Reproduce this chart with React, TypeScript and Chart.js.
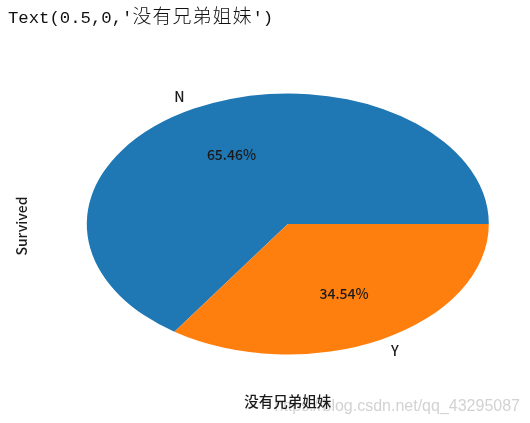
import React, { useEffect, useRef } from "react";
import { Chart, registerables } from "chart.js";

Chart.register(...registerables);

// ---- data ----
const categories = ["N", "Y"];
const counts = [398, 210];
const colors = ["#1f77b4", "#ff7f0e"];
const xLabel = "没有兄弟姐妹";
const yLabel = "Survived";
const outputPrefix = "Text(0.5,0,'";
const outputCjk = "没有兄弟姐妹";
const outputSuffix = "')";
const watermark = "https://blog.csdn.net/qq_43295087";

// ---- geometry / style ----
const RY = 130.5;
const SX = 201 / 130.5;
const LABEL_FONT = '500 14px "Noto Sans CJK SC", sans-serif';
const XLABEL_FONT = '500 14.5px "Noto Sans CJK SC", sans-serif';
const TEXT_COLOR = "#1a1a1a";

export default function App() {
  const ref = useRef<HTMLCanvasElement>(null);

  useEffect(() => {
    if (!ref.current) return;
    const total = counts.reduce((a, b) => a + b, 0);

    const ellipsePlugin = {
      id: "ellipsePie",
      beforeDatasetsDraw(chart: any) {
        const arc = chart.getDatasetMeta(0).data[0];
        const ctx = chart.ctx;
        ctx.save();
        ctx.translate(arc.x, arc.y);
        ctx.scale(SX, 1);
        ctx.translate(-arc.x, -arc.y);
      },
      afterDatasetsDraw(chart: any) {
        chart.ctx.restore();
      },
      afterDraw(chart: any) {
        const ctx = chart.ctx;
        const arcs = chart.getDatasetMeta(0).data;
        const cx = arcs[0].x;
        const cy = arcs[0].y;
        ctx.save();
        // watermark
        ctx.font = '16px "Liberation Sans", Arial, sans-serif';
        ctx.fillStyle = "rgba(195,195,195,0.75)";
        ctx.textAlign = "right";
        ctx.textBaseline = "alphabetic";
        ctx.fillText(watermark, 520, 411);

        ctx.font = LABEL_FONT;
        ctx.fillStyle = TEXT_COLOR;
        arcs.forEach((arc: any, i: number) => {
          const mid = (arc.startAngle + arc.endAngle) / 2;
          const c = Math.cos(mid);
          const s = Math.sin(mid);
          // category label
          ctx.textAlign = c > 0 ? "left" : "right";
          ctx.textBaseline = "middle";
          ctx.fillText(categories[i], cx + 1.1 * RY * SX * c, cy + 1.1 * RY * s);
          // percentage
          ctx.textAlign = "center";
          const pct = ((counts[i] / total) * 100).toFixed(2) + "%";
          ctx.fillText(pct, cx + 0.6 * RY * SX * c, cy + 0.6 * RY * s);
        });
        // x label
        ctx.font = XLABEL_FONT;
        ctx.textAlign = "center";
        ctx.textBaseline = "middle";
        ctx.fillText(xLabel, cx, 401.5);
        // y label
        ctx.font = LABEL_FONT;
        ctx.translate(22, cy + 2);
        ctx.rotate(-Math.PI / 2);
        ctx.fillText(yLabel, 0, 0);
        ctx.restore();
      },
    };

    const chart = new Chart(ref.current, {
      type: "pie",
      data: {
        labels: categories,
        datasets: [
          {
            data: counts,
            backgroundColor: colors,
            borderWidth: 0,
          },
        ],
      },
      options: {
        responsive: false,
        animation: false,
        radius: RY,
        rotation: 90 + (360 * counts[1]) / total,
        layout: { padding: { left: 45.6, right: 0, top: 25, bottom: 0 } },
        plugins: {
          legend: { display: false },
          tooltip: { enabled: false },
        },
      } as any,
      plugins: [ellipsePlugin],
    });
    return () => chart.destroy();
  }, []);

  return (
    <div
      style={{
        position: "fixed",
        left: 0,
        top: 0,
        width: 530,
        height: 423,
        background: "#fff",
        overflow: "hidden",
      }}
    >
      <canvas
        ref={ref}
        width={530}
        height={423}
        style={{ position: "absolute", left: 0, top: 0, width: 530, height: 423 }}
      />
      <div
        style={{
          position: "absolute",
          left: 8,
          top: 0,
          height: 30,
          lineHeight: "30px",
          fontFamily: '"Liberation Mono", monospace',
          fontSize: "17.3px",
          color: "#111",
          whiteSpace: "nowrap",
        }}
      >
        {outputPrefix}
        <span
          style={{
            fontFamily: '"Noto Sans CJK SC", sans-serif',
            fontSize: "19px",
            letterSpacing: "1px",
            fontWeight: 300,
          }}
        >
          {outputCjk}
        </span>
        {outputSuffix}
      </div>
    </div>
  );
}
